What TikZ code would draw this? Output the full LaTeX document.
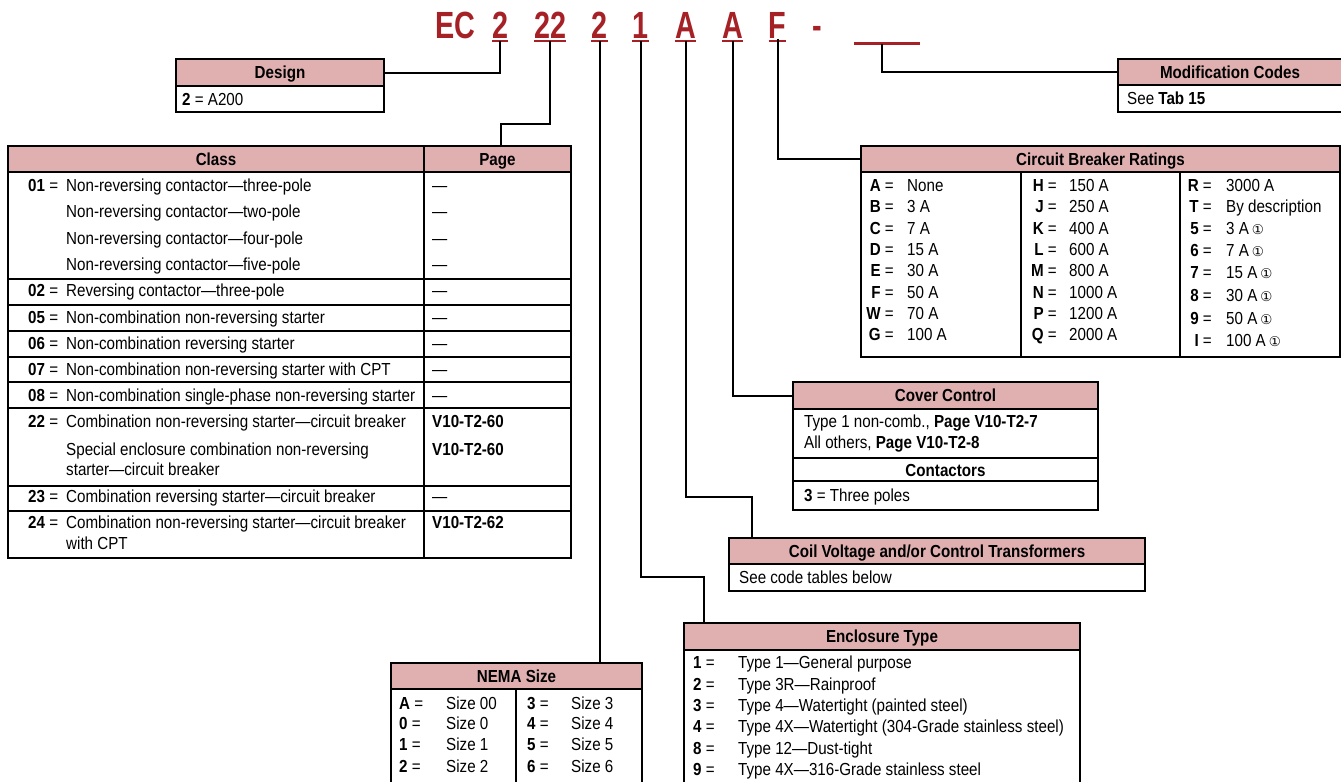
\documentclass[tikz,border=0pt]{standalone}
\usepackage{fontspec}
\setmainfont{Liberation Sans}[FakeStretch=0.87]
\newfontfamily\codefont{Liberation Sans}[FakeStretch=0.76]
\newfontfamily\symfont{DejaVu Sans}
\definecolor{codered}{RGB}{165,33,38}
\definecolor{hdrpink}{RGB}{224,176,177}
\newcommand{\bodysize}{\fontsize{17.5}{20}\selectfont}
\newcommand{\cone}{\,{\symfont\fontsize{13.5}{13.5}\selectfont ①}}
\tikzset{
  hdr/.style={draw, fill=hdrpink, line width=1.2bp, anchor=north west, inner sep=0pt, outer sep=0pt, font=\bodysize\bfseries, text height=12.5bp, text depth=0bp},
  box/.style={draw, line width=1.2bp},
  conn/.style={line width=2bp},
  txt/.style={anchor=base west, inner sep=0pt},
  txr/.style={anchor=base east, inner sep=0pt},
  txc/.style={anchor=base, inner sep=0pt, font=\bodysize\bfseries},
  codech/.style={anchor=base, inner sep=0pt, text=codered, font=\codefont\bfseries\fontsize{38}{40}\selectfont},
  uline/.style={draw=codered, line width=2bp}
}
\begin{document}
\begin{tikzpicture}[x=1bp, y=-1bp, font=\bodysize]
\useasboundingbox (0,0) rectangle (1341,781);
\clip (0,0) rectangle (1341,781);

% ---------- code string ----------
\node[codech] (cEC) at (455.5,39) {EC};
\node[codech] (c2) at (500,39) {2};
\node[codech] (c22) at (550,39) {22};
\node[codech] (c2b) at (599.5,39) {2};
\node[codech] (c1) at (640.5,39) {1};
\node[codech] (cA1) at (685.5,39) {A};
\node[codech] (cA2) at (732.5,39) {A};
\node[codech] (cF) at (777.5,39) {F};
\node[codech] (cdash) at (817,39) {-};
\foreach \n in {c2,c22,c2b,c1,cA1,cA2,cF}
  \draw[uline] ([yshift=-2bp]\n.base west) -- ([yshift=-2bp]\n.base east);
\coordinate (blankL) at (854,44);
\coordinate (blankR) at (920,44);
\coordinate (blankM) at (882,44);
\draw[draw=codered, line width=3bp] (blankL) -- (blankR);

% ---------- Design ----------
\draw[box] (176,86) rectangle (384,112);
\node[hdr, minimum width=208bp, minimum height=27bp] (design) at (176,59) {Design};
\node[txt] (dsg1) at (182,105) {\textbf{2} = A200};

% ---------- Modification codes ----------
\draw[box] (1118,85) rectangle (1350,112);
\node[hdr, minimum width=232bp, minimum height=26bp] (modhdr) at (1118,59) {};
\node[txc] (modt) at (1230,78) {Modification Codes};
\node[txt] (mod1) at (1127,104) {See \textbf{Tab 15}};

% ---------- Class table ----------
\draw[box] (8,172) rectangle (571,558);
\node[hdr, minimum width=416bp, minimum height=26bp] (classhdr) at (8,146) {Class};
\node[hdr, minimum width=147bp, minimum height=26bp] (pagehdr) at (424,146) {Page};
\draw[box] (424,172) -- (424,558);
\foreach \yy in {279,305,331,357,382,408,486,511}
  \draw[box] (8,\yy) -- (571,\yy);

\node[txt] (k01) at (28,191) {\textbf{01} =};
\node[txt] (r01a) at (66,191) {Non-reversing contactor—three-pole};
\node[txt] (r01b) at (66,217) {Non-reversing contactor—two-pole};
\node[txt] (r01c) at (66,244) {Non-reversing contactor—four-pole};
\node[txt] (r01d) at (66,270) {Non-reversing contactor—five-pole};
\node[txt] (k02) at (28,296) {\textbf{02} =};
\node[txt] (r02) at (66,296) {Reversing contactor—three-pole};
\node[txt] (k05) at (28,323) {\textbf{05} =};
\node[txt] (r05) at (66,323) {Non-combination non-reversing starter};
\node[txt] (k06) at (28,349) {\textbf{06} =};
\node[txt] (r06) at (66,349) {Non-combination reversing starter};
\node[txt] (k07) at (28,375) {\textbf{07} =};
\node[txt] (r07) at (66,375) {Non-combination non-reversing starter with CPT};
\node[txt] (k08) at (28,401) {\textbf{08} =};
\node[txt] (r08) at (66,401) {Non-combination single-phase non-reversing starter};
\node[txt] (k22) at (28,427) {\textbf{22} =};
\node[txt] (r22a) at (66,427) {Combination non-reversing starter—circuit breaker};
\node[txt] (r22b) at (66,455) {Special enclosure combination non-reversing};
\node[txt] (r22c) at (66,475) {starter—circuit breaker};
\node[txt] (k23) at (28,502) {\textbf{23} =};
\node[txt] (r23) at (66,502) {Combination reversing starter—circuit breaker};
\node[txt] (k24) at (28,528) {\textbf{24} =};
\node[txt] (r24a) at (66,528) {Combination non-reversing starter—circuit breaker};
\node[txt] (r24b) at (66,549) {with CPT};

\node[txt] (p1) at (432,191) {—};
\node[txt] (p2) at (432,217) {—};
\node[txt] (p3) at (432,244) {—};
\node[txt] (p4) at (432,270) {—};
\node[txt] (p5) at (432,296) {—};
\node[txt] (p6) at (432,323) {—};
\node[txt] (p7) at (432,349) {—};
\node[txt] (p8) at (432,375) {—};
\node[txt] (p9) at (432,401) {—};
\node[txt] (p10) at (432,427) {\textbf{V10-T2-60}};
\node[txt] (p11) at (432,455) {\textbf{V10-T2-60}};
\node[txt] (p12) at (432,502) {—};
\node[txt] (p13) at (432,528) {\textbf{V10-T2-62}};

% ---------- Circuit breaker ratings ----------
\draw[box] (861,172) rectangle (1340,357);
\node[hdr, minimum width=479bp, minimum height=26bp] (cbhdr) at (861,146) {Circuit Breaker Ratings};
\draw[box] (1021,172) -- (1021,357);
\draw[box] (1180,172) -- (1180,357);

\node[txr] (ka) at (894,191) {\textbf{A} =};  \node[txt] (va) at (907,191) {None};
\node[txr] (kb) at (894,212) {\textbf{B} =};  \node[txt] (vb) at (907,212) {3 A};
\node[txr] (kc) at (894,234) {\textbf{C} =};  \node[txt] (vc) at (907,234) {7 A};
\node[txr] (kd) at (894,255) {\textbf{D} =};  \node[txt] (vd) at (907,255) {15 A};
\node[txr] (ke) at (894,276) {\textbf{E} =};  \node[txt] (ve) at (907,276) {30 A};
\node[txr] (kf) at (894,298) {\textbf{F} =};  \node[txt] (vf) at (907,298) {50 A};
\node[txr] (kw) at (894,319) {\textbf{W} =};  \node[txt] (vw) at (907,319) {70 A};
\node[txr] (kg) at (894,340) {\textbf{G} =};  \node[txt] (vg) at (907,340) {100 A};

\node[txr] (kh) at (1057,191) {\textbf{H} =};  \node[txt] (vh) at (1069,191) {150 A};
\node[txr] (kj) at (1057,212) {\textbf{J} =};  \node[txt] (vj) at (1069,212) {250 A};
\node[txr] (kk) at (1057,234) {\textbf{K} =};  \node[txt] (vk) at (1069,234) {400 A};
\node[txr] (kl) at (1057,255) {\textbf{L} =};  \node[txt] (vl) at (1069,255) {600 A};
\node[txr] (km) at (1057,276) {\textbf{M} =};  \node[txt] (vm) at (1069,276) {800 A};
\node[txr] (kn) at (1057,298) {\textbf{N} =};  \node[txt] (vn) at (1069,298) {1000 A};
\node[txr] (kp) at (1057,319) {\textbf{P} =};  \node[txt] (vp) at (1069,319) {1200 A};
\node[txr] (kq) at (1057,340) {\textbf{Q} =};  \node[txt] (vq) at (1069,340) {2000 A};

\node[txr] (kr) at (1212,191) {\textbf{R} =};  \node[txt] (vr) at (1226,191) {3000 A};
\node[txr] (kt) at (1212,212) {\textbf{T} =};  \node[txt] (vt) at (1226,212) {By description};
\node[txr] (k5) at (1212,234) {\textbf{5} =};  \node[txt] (v5) at (1226,234) {3 A\cone};
\node[txr] (k6) at (1212,256) {\textbf{6} =};  \node[txt] (v6) at (1226,256) {7 A\cone};
\node[txr] (k7) at (1212,278) {\textbf{7} =};  \node[txt] (v7) at (1226,278) {15 A\cone};
\node[txr] (k8) at (1212,301) {\textbf{8} =};  \node[txt] (v8) at (1226,301) {30 A\cone};
\node[txr] (k9) at (1212,324) {\textbf{9} =};  \node[txt] (v9) at (1226,324) {50 A\cone};
\node[txr] (ki) at (1212,346) {\textbf{I} =};  \node[txt] (vi) at (1226,346) {100 A\cone};

% ---------- Cover control ----------
\draw[box] (793,409) rectangle (1098,510);
\draw[box] (793,458) -- (1098,458);
\draw[box] (793,481) -- (1098,481);
\node[hdr, minimum width=305bp, minimum height=27bp] (coverhdr) at (793,382) {Cover Control};
\node[txt] (cv1) at (804,427) {Type 1 non-comb., \textbf{Page V10-T2-7}};
\node[txt] (cv2) at (804,448) {All others, \textbf{Page V10-T2-8}};
\node[txc] (cvh) at (945.5,476) {Contactors};
\node[txt] (cv3) at (804,501) {\textbf{3} = Three poles};

% ---------- Coil voltage ----------
\draw[box] (729,564) rectangle (1145,591);
\node[hdr, minimum width=416bp, minimum height=26bp] (coilhdr) at (729,538) {Coil Voltage and/or Control Transformers};
\node[txt] (co1) at (739,583) {See code tables below};

% ---------- Enclosure type ----------
\draw[box] (684,650) rectangle (1080,800);
\node[hdr, minimum width=396bp, minimum height=27bp] (enchdr) at (684,623) {Enclosure Type};
\node[txt] (e1k) at (693,668) {\textbf{1} =};  \node[txt] (e1) at (738,668) {Type 1—General purpose};
\node[txt] (e2k) at (693,690) {\textbf{2} =};  \node[txt] (e2) at (738,690) {Type 3R—Rainproof};
\node[txt] (e3k) at (693,711) {\textbf{3} =};  \node[txt] (e3) at (738,711) {Type 4—Watertight (painted steel)};
\node[txt] (e4k) at (693,732) {\textbf{4} =};  \node[txt] (e4) at (738,732) {Type 4X—Watertight (304-Grade stainless steel)};
\node[txt] (e8k) at (693,754) {\textbf{8} =};  \node[txt] (e8) at (738,754) {Type 12—Dust-tight};
\node[txt] (e9k) at (693,775) {\textbf{9} =};  \node[txt] (e9) at (738,775) {Type 4X—316-Grade stainless steel};

% ---------- NEMA size ----------
\draw[box] (391,689) rectangle (642,800);
\draw[box] (516,689) -- (516,800);
\node[hdr, minimum width=251bp, minimum height=26bp] (nemahdr) at (391,663) {NEMA Size};
\node[txt] (nak) at (399,709) {\textbf{A} =};  \node[txt] (na) at (446,709) {Size 00};
\node[txt] (n0k) at (399,729) {\textbf{0} =};  \node[txt] (n0) at (446,729) {Size 0};
\node[txt] (n1k) at (399,750) {\textbf{1} =};  \node[txt] (n1) at (446,750) {Size 1};
\node[txt] (n2k) at (399,772) {\textbf{2} =};  \node[txt] (n2) at (446,772) {Size 2};
\node[txt] (n3k) at (527,709) {\textbf{3} =};  \node[txt] (n3) at (571,709) {Size 3};
\node[txt] (n4k) at (527,729) {\textbf{4} =};  \node[txt] (n4) at (571,729) {Size 4};
\node[txt] (n5k) at (527,750) {\textbf{5} =};  \node[txt] (n5) at (571,750) {Size 5};
\node[txt] (n6k) at (527,772) {\textbf{6} =};  \node[txt] (n6) at (571,772) {Size 6};

% ---------- connectors ----------
\coordinate (j22) at (501,124);
\coordinate (j1) at (704,577);
\coordinate (jA1) at (752,497);
\draw[conn] ([yshift=-2bp]c2.base) |- (design.east);
\draw[conn] ([yshift=-2bp]c22.base) |- (j22) -- (j22 |- pagehdr.north);
\draw[conn] ([yshift=-2bp]c2b.base) -- (c2b.base |- nemahdr.north);
\draw[conn] ([yshift=-2bp]c1.base) |- (j1) -- (j1 |- enchdr.north);
\draw[conn] ([yshift=-2bp]cA1.base) |- (jA1) -- (jA1 |- coilhdr.north);
\draw[conn] ([yshift=-2bp]cA2.base) |- (coverhdr.west);
\draw[conn] (cF.base) |- (cbhdr.west);
\draw[conn] (blankM) |- (modhdr.west);
\end{tikzpicture}
\end{document}
